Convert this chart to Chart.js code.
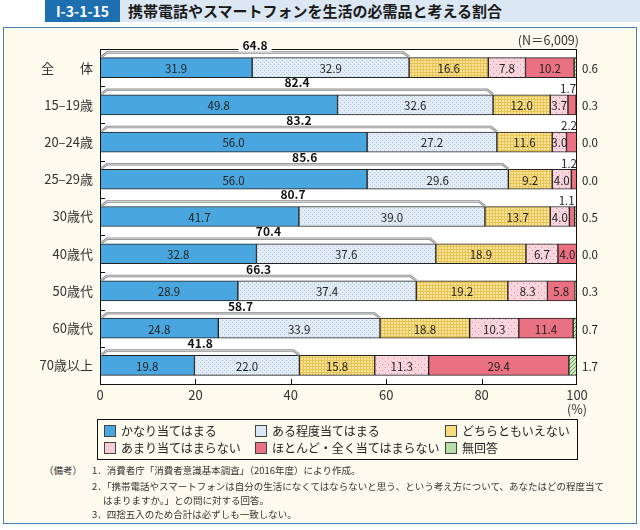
<!DOCTYPE html>
<html lang="ja">
  <head>
    <meta charset="utf-8" />
    <title>携帯電話やスマートフォンを生活の必需品と考える割合</title>
    <style>
      * { margin: 0; padding: 0; }
      body {
        width: 640px; height: 530px; position: relative; background: #fff;
        font-family: "Noto Sans CJK JP", "Noto Sans", sans-serif; color: #222;
        overflow: hidden;
      }
      .hdBand { position: absolute; left: 120px; top: 0; width: 520px; height: 22px; background: #dbe7f3; }
      .hdNo {
        position: absolute; left: 45px; top: 0; width: 75px; height: 22px; background: #1e6fb0;
        color: #fff; font-weight: bold; font-size: 14px; line-height: 22px; text-align: center;
      }
      .hdTitle { position: absolute; left: 128px; top: 0; font-size: 15px; font-weight: bold; line-height: 22px; color: #1a1a1a; }
      .panel {
        position: absolute; left: 3px; top: 27px; width: 632px; height: 495px;
        background: #fdfbed; border: 1px solid #4c7fb2;
      }
      #chartWrap { position: absolute; left: 0; top: 30px; width: 640px; height: 390px; }
      .legend {
        position: absolute; left: 97px; top: 419px; width: 479px; height: 39px;
        border: 1px solid #111; font-size: 12px; color: #222;
      }
      .legend div { position: absolute; white-space: nowrap; line-height: 16px; }
      .legend span.sw {
        display: inline-block; width: 10px; height: 10px; border: 1px solid #444;
        vertical-align: -1px; margin-right: 5px;
      }
      .note { position: absolute; font-size: 9.5px; color: #333; white-space: nowrap; line-height: 12px; }
    </style>
  </head>
  <body>
    <div class="hdBand"></div>
    <div class="hdNo">I-3-1-15</div>
    <div class="hdTitle">携帯電話やスマートフォンを生活の必需品と考える割合</div>
    <div class="panel"></div>
    <div id="chartWrap"><canvas id="myChart" width="640" height="390"></canvas></div>
    <div class="legend" id="legend"></div>
    <div class="note" style="left:44px;top:464px">（備考）</div>
    <div class="note" style="left:92px;top:464px">1．消費者庁「消費者意識基本調査」（2016年度）により作成。</div>
    <div class="note" style="left:92px;top:480px">2．「携帯電話やスマートフォンは自分の生活になくてはならないと思う、という考え方について、あなたはどの程度当て</div>
    <div class="note" style="left:103px;top:494px">はまりますか。」との問に対する回答。</div>
    <div class="note" style="left:92px;top:508px">3．四捨五入のため合計は必ずしも一致しない。</div>

    <script src="https://cdn.jsdelivr.net/npm/chart.js/dist/chart.umd.min.js"></script>
    <script>
      // setup
      const groups = ["全　　体", "15‒19歳", "20‒24歳", "25‒29歳", "30歳代", "40歳代", "50歳代", "60歳代", "70歳以上"];
      const seriesNames = ["かなり当てはまる", "ある程度当てはまる", "どちらともいえない",
        "あまり当てはまらない", "ほとんど・全く当てはまらない", "無回答"];
      const veryTrue = [31.9, 49.8, 56.0, 56.0, 41.7, 32.8, 28.9, 24.8, 19.8];
      const someTrue = [32.9, 32.6, 27.2, 29.6, 39.0, 37.6, 37.4, 33.9, 22.0];
      const neither = [16.6, 12.0, 11.6, 9.2, 13.7, 18.9, 19.2, 18.8, 15.8];
      const notMuch = [7.8, 3.7, 3.0, 4.0, 4.0, 6.7, 8.3, 10.3, 11.3];
      const notAtAll = [10.2, 1.7, 2.2, 1.2, 1.1, 4.0, 5.8, 11.4, 29.4];
      const noAnswer = [0.6, 0.3, 0.0, 0.0, 0.5, 0.0, 0.3, 0.7, 1.7];
      const totals = [64.8, 82.4, 83.2, 85.6, 80.7, 70.4, 66.3, 58.7, 41.8];
      const xTicks = [0, 20, 40, 60, 80, 100];

      // small fill patterns like the printed chart
      function makePattern(size, bg, fg, draw) {
        const c = document.createElement("canvas");
        c.width = size; c.height = size;
        const g = c.getContext("2d");
        g.fillStyle = bg; g.fillRect(0, 0, size, size);
        g.fillStyle = fg; g.strokeStyle = fg;
        draw(g);
        return g.createPattern(c, "repeat");
      }
      const fills = [
        "#4aa6de",
        makePattern(4, "#e2ecf7", "#b4cbe3", g => { g.fillRect(0, 0, 1, 1); g.fillRect(2, 2, 1, 1); }),
        makePattern(3, "#fbe497", "#e7c457", g => { g.fillRect(0, 0, 3, 1); g.fillRect(0, 0, 1, 3); }),
        makePattern(6, "#f9d6de", "#e38c9f", g => { g.fillRect(1, 1, 1, 1); g.fillRect(4, 4, 1, 1); }),
        "#ea7181",
        makePattern(4, "#cfe9c3", "#5da352", g => { g.fillRect(3, 0, 1, 1); g.fillRect(2, 1, 1, 1); g.fillRect(1, 2, 1, 1); g.fillRect(0, 3, 1, 1); }),
      ];
      const legendColors = ["#4aa6de", "#dbe8f5", "#f7dc7c", "#f6cdd6", "#ea7181", "#b9dfa9"];
      const seriesData = [veryTrue, someTrue, neither, notMuch, notAtAll, noAnswer];

      const data = {
        labels: groups,
        datasets: seriesData.map((d, i) => ({
          label: seriesNames[i],
          data: d,
          backgroundColor: fills[i],
          borderColor: "#222",
          borderWidth: 1,
          borderSkipped: false,
          barThickness: 20,
        })),
      };

      const fmt = v => v.toFixed(1);

      // labels, brackets, frame
      const decor = {
        id: "decor",
        beforeDatasetsDraw(chart) {
          const { ctx, chartArea: a } = chart;
          ctx.save();
          ctx.fillStyle = "#fff";
          ctx.fillRect(a.left, a.top, a.right - a.left, a.bottom - a.top);
          ctx.restore();
        },
        afterDatasetsDraw(chart) {
          const { ctx, chartArea: a } = chart;
          const xs = chart.scales.x;
          ctx.save();
          // frame
          ctx.strokeStyle = "#111";
          ctx.lineWidth = 1;
          ctx.strokeRect(a.left + 0.5, a.top + 0.5, a.right - a.left - 1, a.bottom - a.top);
          // inner ticks
          ctx.beginPath();
          const step = (a.bottom - a.top) / groups.length;
          for (let i = 1; i < groups.length; i++) {
            const y = Math.round(a.top + i * step) + 0.5;
            ctx.moveTo(a.left, y); ctx.lineTo(a.left + 5, y);
          }
          xTicks.slice(1, -1).forEach(v => {
            const x = Math.round(xs.getPixelForValue(v)) + 0.5;
            ctx.moveTo(x, a.bottom); ctx.lineTo(x, a.bottom - 5);
          });
          ctx.stroke();

          groups.forEach((g, i) => {
            const first = chart.getDatasetMeta(0).data[i];
            const yc = first.y, top = first.y - first.height / 2;
            // values inside bars
            ctx.font = "11.5px 'Noto Sans CJK JP', sans-serif";
            ctx.fillStyle = "#222";
            ctx.textBaseline = "middle";
            for (let d = 0; d < 5; d++) {
              const el = chart.getDatasetMeta(d).data[i];
              const v = seriesData[d][i];
              if (v >= 3) {
                ctx.textAlign = "center";
                ctx.fillText(fmt(v), (el.x + el.base) / 2, yc + 1);
              } else {
                ctx.textAlign = "right";
                ctx.fillText(fmt(v), el.x, top - 6);
              }
            }
            // no answer, outside the frame
            ctx.textAlign = "left";
            ctx.fillText(fmt(noAnswer[i]), a.right + 5, yc + 1);

            // bracket over the first two segments
            const x0 = a.left + 1, x1 = xs.getPixelForValue(veryTrue[i] + someTrue[i]);
            ctx.beginPath();
            ctx.moveTo(x0, top - 0.5);
            ctx.lineTo(x0 + 6, top - 5);
            ctx.lineTo(x1 - 6, top - 5);
            ctx.lineTo(x1, top - 0.5);
            ctx.strokeStyle = "#8d8d8d";
            ctx.lineWidth = 2.5;
            ctx.stroke();
            ctx.strokeStyle = "#e4e4e4";
            ctx.lineWidth = 0.8;
            ctx.stroke();

            // total label
            ctx.font = "bold 12px 'Noto Sans CJK JP', sans-serif";
            const t = fmt(totals[i]);
            const cx = (x0 + x1) / 2, cy = top - 12;
            const w = ctx.measureText(t).width;
            if (i === 0) {
              ctx.fillStyle = "#fdfbed";
              ctx.fillRect(cx - w / 2 - 4, cy - 7, w + 8, 6);
              ctx.fillStyle = "#fff";
              ctx.fillRect(cx - w / 2 - 4, cy - 1, w + 8, 7);
            }
            ctx.fillStyle = "#111";
            ctx.textAlign = "center";
            ctx.fillText(t, cx, cy);
          });

          // unit and sample size
          ctx.font = "12.5px 'Noto Sans CJK JP', sans-serif";
          ctx.fillStyle = "#333";
          ctx.textAlign = "center";
          ctx.fillText("(%)", a.right, a.bottom + 25);
          ctx.textAlign = "right";
          ctx.fillText("(N＝6,009)", a.right + 2, a.top - 9);
          ctx.restore();
        },
      };

      // config
      const config = {
        type: "bar",
        data,
        options: {
          indexAxis: "y",
          responsive: false,
          animation: false,
          devicePixelRatio: 1,
          layout: { padding: { top: 19, right: 63, left: 0, bottom: 0 } },
          plugins: { legend: { display: false }, tooltip: { enabled: false } },
          scales: {
            x: {
              stacked: true,
              min: 0,
              max: 100,
              afterBuildTicks: s => { s.ticks = xTicks.map(v => ({ value: v })); },
              afterFit: s => { s.height = 36; },
              grid: { display: false, drawTicks: false },
              border: { display: false },
              ticks: { padding: 3, color: "#333", font: { size: 13, family: "'Noto Sans CJK JP', sans-serif" } },
            },
            y: {
              stacked: true,
              afterFit: s => { s.width = 100; },
              grid: { display: false, drawTicks: false },
              border: { display: false },
              ticks: { padding: 7, color: "#333", font: { size: 13, family: "'Noto Sans CJK JP', sans-serif" } },
            },
          },
        },
        plugins: [decor],
      };

      // render init block
      const myChart = new Chart(document.getElementById("myChart"), config);

      // legend, two rows of three
      const legend = document.getElementById("legend");
      const legendPos = [[6, 3], [157, 3], [347, 3], [6, 20], [157, 20], [347, 20]];
      seriesNames.forEach((n, i) => {
        const item = document.createElement("div");
        item.style.left = legendPos[i][0] + "px";
        item.style.top = legendPos[i][1] + "px";
        item.innerHTML = '<span class="sw" style="background:' + legendColors[i] + '"></span>' + n;
        legend.appendChild(item);
      });
    </script>
  </body>
</html>
